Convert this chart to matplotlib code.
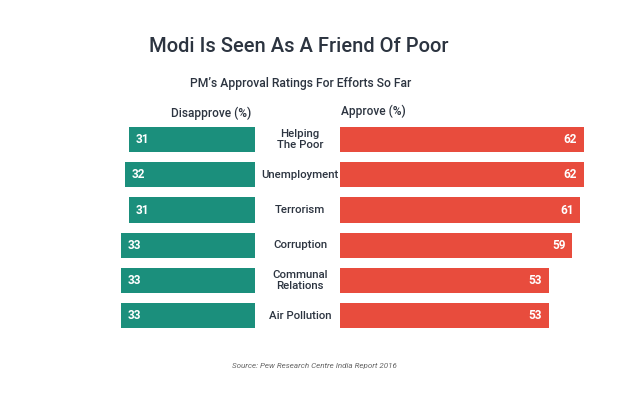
import matplotlib
matplotlib.use("Agg")
import matplotlib.pyplot as plt
from matplotlib.transforms import blended_transform_factory

plt.rcParams["font.family"] = ["Roboto", "DejaVu Sans"]

# data
categories = ["Helping\nThe Poor", "Unemployment", "Terrorism", "Corruption",
              "Communal\nRelations", "Air Pollution"]
disapprove = [31, 32, 31, 33, 33, 33]
approve = [62, 62, 61, 59, 53, 53]

green = "#1b8f7c"
red = "#e84c3d"
dark = "#2c3440"

W, H = 640, 412
fig = plt.figure(figsize=(W / 100, H / 100), dpi=100)
fig.patch.set_facecolor("white")

# axes placed in pixel terms
top_px, bot_px = 122, 333.2
ax_b = (H - bot_px) / H
ax_h = (bot_px - top_px) / H
ax_l = fig.add_axes([100 / W, ax_b, 155 / W, ax_h])
ax_r = fig.add_axes([340 / W, ax_b, 260 / W, ax_h])

y = list(range(len(categories)))
ax_l.barh(y, disapprove, height=0.72, color=green)
ax_r.barh(y, approve, height=0.72, color=red)

ax_l.set_xlim(155 / 4.06, 0)
ax_r.set_xlim(0, 260 / 3.94)
for ax in (ax_l, ax_r):
    ax.set_ylim(len(categories) - 0.5, -0.5)
    ax.axis("off")

# value labels inside the bars
for i, v in enumerate(disapprove):
    ax_l.annotate(str(v), (v, i), xytext=(5, 0), textcoords="offset points",
                  ha="left", va="center", color="white", fontsize=8.5, fontweight="bold")
for i, v in enumerate(approve):
    ax_r.annotate(str(v), (v, i), xytext=(-5, 0), textcoords="offset points",
                  ha="right", va="center", color="white", fontsize=8.5, fontweight="bold")

# category labels between the bars
tr = blended_transform_factory(fig.transFigure, ax_r.transData)
for i, c in enumerate(categories):
    fig.text(300 / W, i, c, transform=tr, ha="center", va="center",
             fontsize=8.2, fontweight="medium", color=dark, linespacing=1.15)

# titles
fig.text(149 / W, 1 - 47 / H, "Modi Is Seen As A Friend Of Poor", ha="left", va="center",
         fontsize=14.5, fontweight="medium", color=dark)
fig.text(301 / W, 1 - 83 / H, "PM\u2019s Approval Ratings For Efforts So Far", ha="center",
         va="center", fontsize=8.7, fontweight="medium", color=dark)
fig.text(211 / W, 1 - 113 / H, "Disapprove (%)", ha="center", va="center",
         fontsize=8.6, fontweight="medium", color=dark)
fig.text(373 / W, 1 - 111 / H, "Approve (%)", ha="center", va="center",
         fontsize=8.6, fontweight="medium", color=dark)
fig.text(314 / W, 1 - 366 / H, "Source: Pew Research Centre India Report 2016", ha="center",
         va="center", fontsize=5.8, style="italic", color="#666666")

fig.savefig("out.png", dpi=100)
